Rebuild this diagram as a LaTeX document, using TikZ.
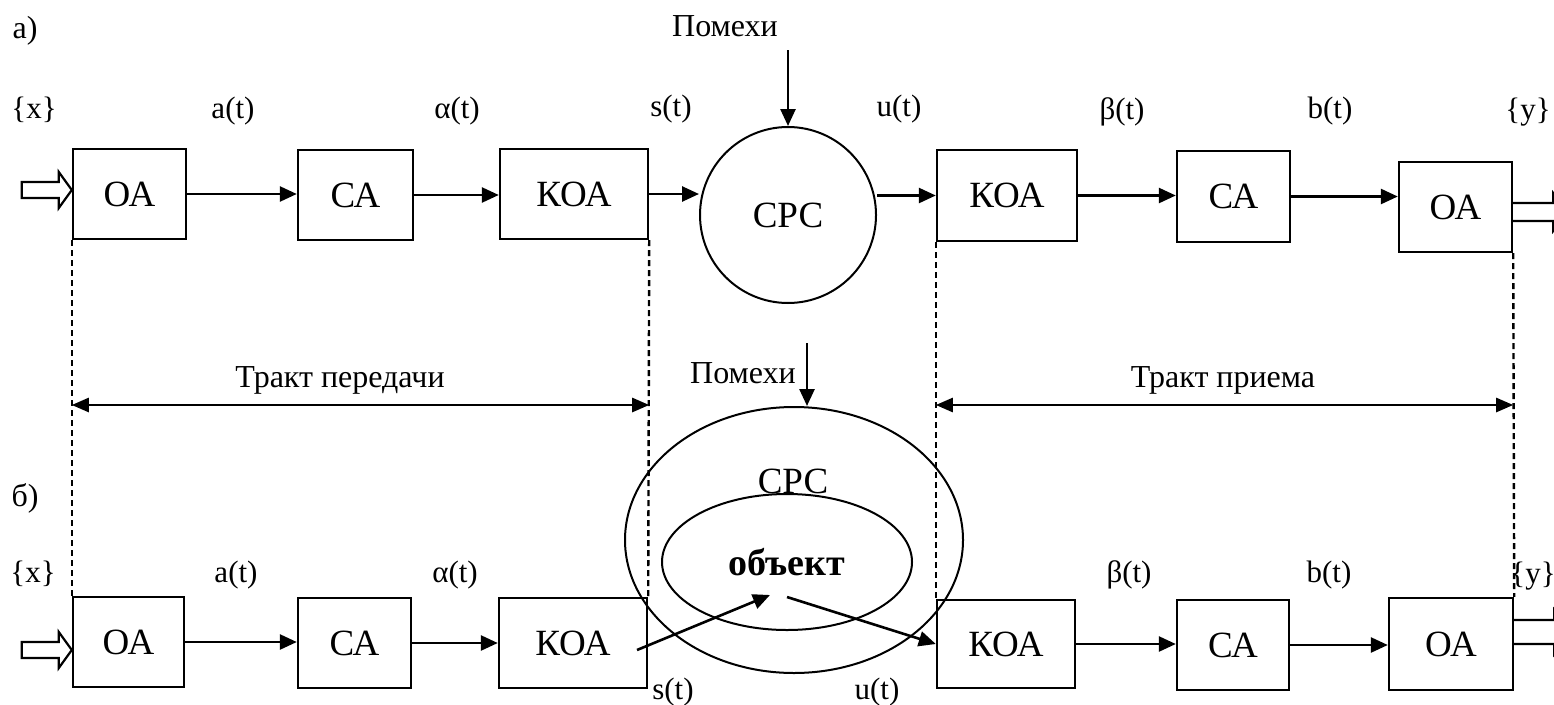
\documentclass[tikz,border=0pt]{standalone}
\usepackage{fontspec}
\setmainfont{Liberation Serif}
\usetikzlibrary{arrows.meta,shapes.geometric}

\begin{document}
\begin{tikzpicture}[x=1pt,y=-1pt]
\tikzstyle{every node}=[inner sep=0pt];
\tikzstyle{blk}=[draw,line width=2.4pt,minimum height=90pt,font=\fontsize{37}{40}\selectfont];
\tikzstyle{lbl}=[font=\fontsize{31}{34}\selectfont,text height=0.72em,text depth=0.22em];
\tikzstyle{captxt}=[font=\fontsize{32}{35}\selectfont,text height=0.72em,text depth=0.22em];
\tikzstyle{sig}=[line width=2.6pt,-{Triangle[length=17pt,width=15pt]}];
\tikzstyle{spanarr}=[line width=2.6pt,{Triangle[length=17pt,width=14pt]}-{Triangle[length=17pt,width=14pt]}];
\tikzstyle{guide}=[line width=2.4pt,dash pattern=on 6pt off 4pt];
\tikzstyle{hollow}=[line width=2.2pt,fill=white];
\useasboundingbox (0,0) rectangle (1554,704);

% а) one medium
\path (25,36) node[captxt] (pa) {а)};
\path (129.5,194) node[blk,minimum width=113pt] (oa1) {ОА};
\path (355.5,195) node[blk,minimum width=115pt] (ca1) {СА};
\path (574,194) node[blk,minimum width=148pt] (koa1) {КОА};
\path (788,215) node[draw,circle,line width=2pt,minimum size=176pt,font=\fontsize{37}{40}\selectfont] (src1) {СРС};
\path (1007,195.5) node[blk,minimum width=140pt,minimum height=91pt] (koa2) {КОА};
\path (1233.5,196.5) node[blk,minimum width=113pt,minimum height=91pt] (ca2) {СА};
\path (1455.5,207) node[blk,minimum width=113pt] (oa2) {ОА};

\path (34,116) node[lbl] (x1) {\{x\}};
\path (233,116) node[lbl] (a1) {a(t)};
\path (457,116) node[lbl] (al1) {α(t)};
\path (671,114) node[lbl] (s1) {s(t)};
\path (899,114) node[lbl] (u1) {u(t)};
\path (1122,117) node[lbl] (be1) {β(t)};
\path (1330,116) node[lbl] (b1) {b(t)};
\path (1528,117) node[lbl] (y1) {\{y\}};

\path (725,34) node[captxt] (pn1) {Помехи};
\coordinate (n1) at (788,50);
\draw[sig] (n1) -- (src1.north);

\draw[sig] (oa1.east) -- (oa1.east -| ca1.west);
\draw[sig] (ca1.east) -- (ca1.east -| koa1.west);
\draw[sig] (koa1.east) -- (koa1.east -| src1.west);
\draw[sig] (src1.east |- koa2.west) -- (koa2.west);
\draw[sig] (koa2.east) -- (koa2.east -| ca2.west);
\draw[sig] (ca2.east) -- (ca2.east -| oa2.west);

\draw[hollow] (oa1.west) ++(0,-4) -- ++(-13,-18) -- ++(0,10) -- ++(-37,0) -- ++(0,16) -- ++(37,0) -- ++(0,10) -- cycle;
\draw[hollow] (oa2.east) ++(0,-4) -- ++(40,0) -- ++(0,-10) -- ++(16,19) -- ++(-16,19) -- ++(0,-10) -- ++(-40,0);

% б) two media
\path (25,504) node[captxt] (pb) {б)};
\path (794,540) node[draw,ellipse,line width=2pt,minimum width=338pt,minimum height=266pt] (src2) {};
\path (787,562) node[draw,ellipse,line width=2pt,minimum width=250pt,minimum height=136pt,font=\fontsize{38}{40}\selectfont\bfseries] (obj) {объект};
\path (793,481) node[font=\fontsize{37}{40}\selectfont] (srcl) {СРС};

\path (128.5,642) node[blk,minimum width=111pt] (oa3) {ОА};
\path (354.5,643) node[blk,minimum width=113pt] (ca3) {СА};
\path (573,643) node[blk,minimum width=148pt] (koa3) {КОА};
\path (1006,644) node[blk,minimum width=138pt,minimum height=88pt] (koa4) {КОА};
\path (1233,645) node[blk,minimum width=112pt] (ca4) {СА};
\path (1451,644) node[blk,minimum width=124pt,minimum height=92pt] (oa4) {ОА};

\path (33,580) node[lbl] (x2) {\{x\}};
\path (236,580) node[lbl] (a2) {a(t)};
\path (455,580) node[lbl] (al2) {α(t)};
\path (673,697) node[lbl] (s2) {s(t)};
\path (877,697) node[lbl] (u2) {u(t)};
\path (1129,580) node[lbl] (be2) {β(t)};
\path (1329,580) node[lbl] (b2) {b(t)};
\path (1533,581) node[lbl] (y2) {\{y\}};

\path (743,381) node[captxt] (pn2) {Помехи};
\coordinate (n2) at (807,343);
\draw[sig] (n2) -- (n2 |- src2.north);

\draw[sig] (oa3.east) -- (oa3.east -| ca3.west);
\draw[sig] (ca3.east) -- (ca3.east -| koa3.west);
\coordinate (sout) at (637,650);
\coordinate (sin) at (770,595);
\coordinate (uout) at (787,597);
\draw[sig] (sout) -- (sin);
\draw[sig] (uout) -- (koa4.west);
\draw[sig] (koa4.east) -- (koa4.east -| ca4.west);
\draw[sig] (ca4.east) -- (ca4.east -| oa4.west);

\draw[hollow] (oa3.west) ++(0,8) -- ++(-13,-18) -- ++(0,10) -- ++(-37,0) -- ++(0,16) -- ++(37,0) -- ++(0,10) -- cycle;
\draw[hollow] (oa4.east) ++(0,-24) -- ++(40,0) -- ++(0,-10) -- ++(16,22) -- ++(-16,22) -- ++(0,-10) -- ++(-40,0);

% tracts
\draw[guide] (oa1.south west) -- (oa3.north west);
\draw[guide] (koa1.south east) -- (koa3.north east);
\draw[guide] (koa2.south west) -- (koa4.north west);
\draw[guide] (oa2.south east) -- (oa4.north east);
\coordinate (sy) at (0,405);
\path (340,385) node[captxt] (tr1) {Тракт передачи};
\path (1223,385) node[captxt] (tr2) {Тракт приема};
\draw[spanarr] (oa1.west |- sy) -- (koa1.east |- sy);
\draw[spanarr] (koa2.west |- sy) -- (oa2.east |- sy);
\end{tikzpicture}
\end{document}
